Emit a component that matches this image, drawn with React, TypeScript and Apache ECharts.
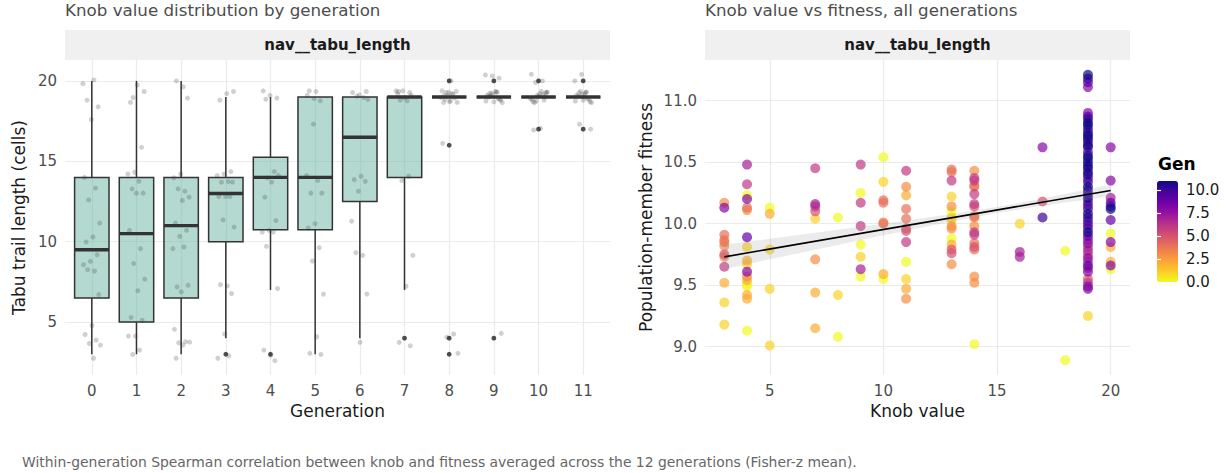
import React, { useEffect, useRef } from 'react';
import * as echarts from 'echarts';

// ---------- Left panel: knob value by generation ----------
const generations = [0, 1, 2, 3, 4, 5, 6, 7, 8, 9, 10, 11];
const whiskerLow = [3, 3, 3, 4, 7, 3, 4, 7, 19, 19, 19, 19];
const quart1 = [6.5, 5, 6.5, 10, 10.75, 10.75, 12.5, 14, 19, 19, 19, 19];
const medians = [9.5, 10.5, 11, 13, 14, 14, 16.5, 19, 19, 19, 19, 19];
const quart3 = [14, 14, 14, 14, 15.25, 19, 19, 19, 19, 19, 19, 19];
const whiskerHigh = [20, 20, 20, 19, 19, 19, 19, 19, 19, 19, 19, 19];
const outliers = [[], [], [], [3], [3], [], [], [4], [20, 16, 4, 3], [20, 4], [20, 17], [20, 17]];

const jitterValues = [
  [19.83, 20.06, 18.8, 18.39, 17.6, 14.0, 13.33, 12.6, 11.16, 10.29, 9.98, 9.19, 8.78, 8.57, 8.18, 8.26, 6.71, 4.79, 4.23, 3.88, 3.67, 3.57, 2.75],
  [18.97, 19.34, 19.75, 18.66, 15.87, 14.32, 14.21, 13.76, 13.29, 13.02, 13.02, 10.7, 9.57, 8.64, 7.67, 6.95, 5.29, 5.12, 4.13, 4.13, 3.26, 2.99],
  [19.63, 20.0, 18.93, 14.21, 13.97, 13.14, 13.29, 12.77, 12.56, 11.16, 10.7, 10.33, 9.57, 9.67, 7.19, 7.29, 6.88, 4.55, 3.78, 3.71, 3.75, 3.57, 2.75],
  [19.34, 19.21, 18.8, 14.36, 14.21, 14.11, 13.74, 13.7, 13.7, 12.81, 12.81, 12.81, 11.36, 10.91, 7.25, 7.33, 6.78, 4.26, 2.75, 2.9],
  [18.86, 18.93, 19.1, 19.38, 14.36, 13.97, 14.11, 13.7, 12.77, 11.32, 10.7, 10.6, 10.6, 9.71, 7.09, 2.93, 3.26, 2.6],
  [19.34, 19.38, 18.76, 17.31, 14.11, 13.8, 13.02, 13.02, 11.12, 10.85, 9.63, 8.8, 6.74, 4.09, 3.06, 2.99, 18.9, 19.1],
  [19.34, 19.13, 19.28, 18.97, 19.05, 18.85, 14.07, 13.86, 13.76, 13.14, 11.28, 9.15, 9.32, 6.74, 3.74],
  [19.34, 19.28, 19.38, 19.38, 18.76, 18.8, 19.1, 18.95, 19.2, 14.07, 13.8, 9.15, 7.23, 3.74, 3.53],
  [19.28, 19.38, 19.17, 19.28, 18.66, 18.76, 18.66, 18.93, 19.07, 18.97, 19.2, 18.85, 19.35, 18.7, 16.12, 4.26, 4.05, 3.06, 20.0, 19.1],
  [20.17, 20.31, 20.37, 19.3, 19.2, 18.8, 18.7, 19.1, 18.9, 19.25, 18.65, 19.35, 19.0, 18.85, 19.15, 18.75, 19.3, 19.05, 4.3],
  [20.41, 20.0, 19.9, 19.3, 19.2, 18.7, 18.8, 19.1, 18.9, 19.35, 18.65, 19.25, 19.05, 18.85, 19.15, 18.75, 19.3, 17.05, 16.95, 19.0],
  [20.41, 20.0, 19.3, 19.25, 18.7, 18.8, 19.1, 18.9, 19.35, 18.65, 19.2, 19.05, 18.85, 19.15, 18.75, 19.3, 17.31, 17.0, 19.0],
];
const leftYTicks = [5, 10, 15, 20];

// ---------- Right panel: knob vs fitness ----------
const knobValues = [3, 4, 5, 7, 8, 9, 10, 11, 13, 14, 16, 17, 18, 19, 20];
// each entry: [fitness, generation]
const fitnessByKnob = [
  [[10.17, 3], [10.13, 8], [9.91, 4], [9.87, 3], [9.85, 4], [9.82, 3], [9.75, 5], [9.73, 3], [9.65, 6], [9.52, 2], [9.36, 1], [9.18, 1]],
  [[10.48, 7], [10.32, 6], [10.23, 0], [10.2, 8], [10.13, 4], [10.11, 3], [9.89, 9], [9.81, 1], [9.7, 2], [9.67, 1], [9.61, 8], [9.57, 3], [9.54, 2], [9.51, 0], [9.49, 0], [9.42, 2], [9.39, 2], [9.13, 0]],
  [[10.13, 0], [10.08, 2], [9.79, 1], [9.47, 1], [9.01, 1]],
  [[10.45, 6], [10.16, 7], [10.14, 6], [10.1, 5], [10.04, 1], [9.71, 3], [9.44, 2], [9.15, 2]],
  [[10.05, 0], [9.42, 1], [9.08, 0]],
  [[10.48, 6], [10.25, 0], [10.17, 6], [9.98, 6], [9.83, 0], [9.73, 1], [9.63, 7], [9.57, 0]],
  [[10.54, 0], [10.34, 1], [10.19, 4], [10.17, 4], [10.0, 4], [10.01, 3], [9.59, 2], [9.55, 0]],
  [[10.43, 6], [10.3, 3], [10.23, 2], [10.12, 4], [10.04, 4], [9.96, 5], [9.94, 5], [9.85, 6], [9.69, 0], [9.55, 1], [9.47, 2], [9.39, 3]],
  [[10.44, 4], [10.42, 4], [10.35, 6], [10.22, 1], [10.14, 3], [10.1, 0], [10.05, 1], [10.03, 1], [9.98, 3], [9.96, 3], [9.88, 0], [9.83, 2], [9.79, 5], [9.76, 5], [9.67, 3]],
  [[10.43, 3], [10.37, 6], [10.35, 6], [10.31, 3], [10.3, 4], [10.24, 6], [10.16, 6], [10.14, 5], [10.06, 4], [10.05, 3], [9.98, 3], [9.93, 6], [9.91, 6], [9.84, 4], [9.81, 5], [9.79, 4], [9.57, 3], [9.52, 3], [9.02, 0]],
  [[10.0, 1], [9.77, 7], [9.73, 7]],
  [[10.62, 8], [10.18, 5], [10.05, 10]],
  [[9.78, 0], [8.89, 0]],
  [[11.21, 11], [11.18, 10], [11.15, 9], [11.11, 8], [10.9, 8], [10.87, 9], [10.85, 10], [10.82, 11], [10.8, 11], [10.77, 10], [10.74, 9], [10.72, 11], [10.7, 10], [10.68, 10], [10.66, 5], [10.64, 11], [10.62, 10], [10.58, 9], [10.55, 11], [10.53, 10], [10.5, 11], [10.47, 11], [10.45, 10], [10.42, 9], [10.4, 11], [10.37, 8], [10.34, 10], [10.3, 11], [10.27, 10], [10.24, 9], [10.21, 11], [10.18, 8], [10.15, 10], [10.12, 9], [10.08, 11], [10.05, 10], [10.02, 9], [9.99, 10], [9.96, 8], [9.93, 11], [9.9, 9], [9.87, 7], [9.84, 8], [9.81, 6], [9.78, 7], [9.75, 5], [9.72, 8], [9.69, 6], [9.66, 9], [9.64, 7], [9.61, 8], [9.55, 5], [9.52, 6], [9.49, 8], [9.47, 8], [9.25, 1]],
  [[10.62, 8], [10.35, 8], [10.21, 7], [10.17, 9], [10.14, 10], [10.12, 11], [10.03, 9], [9.92, 0], [9.85, 8], [9.81, 2], [9.69, 2], [9.66, 8], [9.63, 0]],
];
const fitX = [3, 20];
const fitY = [9.73, 10.27];
const bandX = [3, 5, 7, 9, 11, 13, 15, 17, 20];
const bandLow = [9.63, 9.71, 9.788, 9.867, 9.943, 10.018, 10.086, 10.145, 10.223];
const bandHigh = [9.83, 9.878, 9.926, 9.975, 10.025, 10.078, 10.136, 10.205, 10.317];
const rightXTicks = [5, 10, 15, 20];
const rightYTicks = [9.0, 9.5, 10.0, 10.5, 11.0];
const genLegendTicks = [0, 2.5, 5, 7.5, 10];

const plasmaLowToHigh = ['#F0F921', '#FCCE25', '#FCA636', '#F2844B', '#E16462', '#CC4778', '#B12A90', '#8F0DA4', '#6A00A8', '#41049D', '#0D0887'];

const FONT = 'DejaVu Sans';
const GRID_COLOR = '#ebebeb';
const AXIS_TEXT = '#4d4d4d';

function buildOption() {
  const boxData = generations.map((g, i) => [g, whiskerLow[i], quart1[i], medians[i], quart3[i], whiskerHigh[i]]);
  const outlierData: number[][] = [];
  outliers.forEach((vals, g) => vals.forEach((v) => outlierData.push([g, v])));
  const jitterData: number[][] = [];
  jitterValues.forEach((vals, g) => {
    vals.forEach((v, i) => {
      const frac = (i * 0.6180339 + g * 0.31) % 1;
      jitterData.push([g + (frac - 0.5) * 0.4, v]);
    });
  });

  const scatterData: number[][] = [];
  knobValues.forEach((k, i) => fitnessByKnob[i].forEach(([f, gen]) => scatterData.push([k, f, gen])));
  scatterData.sort((a, b) => a[2] - b[2]);

  const bandData = bandX.map((x, i) => [x, bandLow[i], bandHigh[i]]);

  const halfBox = 0.385;

  const axisLabelStyle = { color: AXIS_TEXT, fontSize: 15, fontFamily: FONT };
  const nameStyle = { color: '#1a1a1a', fontSize: 17, fontFamily: FONT };

  return {
    animation: false,
    backgroundColor: '#ffffff',
    textStyle: { fontFamily: FONT },
    grid: [
      { left: 65, top: 60, width: 545, height: 315, containLabel: false },
      { left: 705, top: 60, width: 425, height: 315, containLabel: false },
      { left: 1157, top: 181, width: 21, height: 101, containLabel: false },
    ],
    xAxis: [
      {
        gridIndex: 0, type: 'value', min: -0.6, max: 11.6,
        name: 'Generation', nameLocation: 'middle', nameGap: 27, nameTextStyle: nameStyle,
        axisLine: { show: false },
        axisTick: { show: false, customValues: generations },
        axisLabel: { ...axisLabelStyle, margin: 8, customValues: generations },
        splitLine: { show: true, lineStyle: { color: GRID_COLOR, width: 1.2 } },
      },
      {
        gridIndex: 1, type: 'value', min: 2.15, max: 20.85,
        name: 'Knob value', nameLocation: 'middle', nameGap: 27, nameTextStyle: nameStyle,
        axisLine: { show: false },
        axisTick: { show: false, customValues: rightXTicks },
        axisLabel: { ...axisLabelStyle, margin: 8, customValues: rightXTicks },
        splitLine: { show: true, lineStyle: { color: GRID_COLOR, width: 1.2 } },
      },
      { gridIndex: 2, type: 'value', min: 0, max: 1, show: false },
    ],
    yAxis: [
      {
        gridIndex: 0, type: 'value', min: 1.71, max: 21.3,
        name: 'Tabu trail length (cells)', nameLocation: 'middle', nameGap: 38, nameTextStyle: nameStyle,
        axisLine: { show: false },
        axisTick: { show: false, customValues: leftYTicks },
        axisLabel: { ...axisLabelStyle, margin: 8, customValues: leftYTicks },
        splitLine: { show: true, lineStyle: { color: GRID_COLOR, width: 1.2 } },
      },
      {
        gridIndex: 1, type: 'value', min: 8.77, max: 11.33,
        name: 'Population-member fitness', nameLocation: 'middle', nameGap: 51, nameTextStyle: nameStyle,
        axisLine: { show: false },
        axisTick: { show: false, customValues: rightYTicks },
        axisLabel: { ...axisLabelStyle, margin: 8, customValues: rightYTicks, formatter: (v: number) => v.toFixed(1) },
        splitLine: { show: true, lineStyle: { color: GRID_COLOR, width: 1.2 } },
      },
      {
        gridIndex: 2, type: 'value', min: 0, max: 11, position: 'right', z: 10,
        axisLine: { show: false },
        axisTick: { show: true, inside: true, length: 4, customValues: genLegendTicks, lineStyle: { color: '#ffffff', width: 1.2 } },
        axisLabel: { color: '#1a1a1a', fontSize: 15, fontFamily: FONT, margin: 8, customValues: genLegendTicks, formatter: (v: number) => v.toFixed(1) },
        splitLine: { show: false },
      },
      {
        gridIndex: 2, type: 'value', min: 0, max: 11, position: 'left', z: 10,
        axisLine: { show: false },
        axisTick: { show: true, inside: true, length: 4, customValues: genLegendTicks, lineStyle: { color: '#ffffff', width: 1.2 } },
        axisLabel: { show: false },
        splitLine: { show: false },
      },
    ],
    visualMap: {
      type: 'continuous', min: 0, max: 11, dimension: 2, seriesIndex: 3,
      inRange: { color: plasmaLowToHigh },
      left: 1157, top: 181, itemWidth: 21, itemHeight: 101, padding: 0,
      calculable: false, hoverLink: false, orient: 'vertical',
    },
    graphic: [
      { type: 'text', x: 65, y: 10, style: { text: 'Knob value distribution by generation', fill: '#4d4d4d', font: `16.7px "${FONT}"`, textVerticalAlign: 'middle', verticalAlign: 'middle' } },
      { type: 'text', x: 705, y: 10, style: { text: 'Knob value vs fitness, all generations', fill: '#4d4d4d', font: `16.7px "${FONT}"`, textVerticalAlign: 'middle', verticalAlign: 'middle' } },
      { type: 'rect', shape: { x: 65, y: 30, width: 545, height: 30 }, style: { fill: '#f0f0f0' } },
      { type: 'rect', shape: { x: 705, y: 30, width: 425, height: 30 }, style: { fill: '#f0f0f0' } },
      { type: 'text', x: 337.5, y: 45, style: { text: 'nav__tabu_length', fill: '#1a1a1a', font: `bold 15px "${FONT}"`, textAlign: 'center', align: 'center', textVerticalAlign: 'middle', verticalAlign: 'middle' } },
      { type: 'text', x: 917.5, y: 45, style: { text: 'nav__tabu_length', fill: '#1a1a1a', font: `bold 15px "${FONT}"`, textAlign: 'center', align: 'center', textVerticalAlign: 'middle', verticalAlign: 'middle' } },
      { type: 'text', x: 1158, y: 164, style: { text: 'Gen', fill: '#000000', font: `bold 17px "${FONT}"`, textVerticalAlign: 'middle', verticalAlign: 'middle' } },
      { type: 'text', x: 22, y: 462, style: { text: 'Within-generation Spearman correlation between knob and fitness averaged across the 12 generations (Fisher-z mean).', fill: '#666666', font: `13.9px "${FONT}"`, textVerticalAlign: 'middle', verticalAlign: 'middle' } },
    ],
    series: [
      {
        type: 'custom', xAxisIndex: 0, yAxisIndex: 0, data: boxData, encode: { x: 0, y: [1, 2, 3, 4, 5] }, z: 2,
        renderItem: (params: any, api: any) => {
          const g = api.value(0);
          const lo = api.value(1), b1 = api.value(2), md = api.value(3), b3 = api.value(4), hi = api.value(5);
          const pLo = api.coord([g, lo]);
          const pHi = api.coord([g, hi]);
          const pQ1 = api.coord([g, b1]);
          const pQ3 = api.coord([g, b3]);
          const tl = api.coord([g - halfBox, b3]);
          const br = api.coord([g + halfBox, b1]);
          const mL = api.coord([g - halfBox, md]);
          const mR = api.coord([g + halfBox, md]);
          const stroke = '#333333';
          return {
            type: 'group',
            children: [
              { type: 'line', shape: { x1: pHi[0], y1: pHi[1], x2: pQ3[0], y2: pQ3[1] }, style: { stroke, lineWidth: 1.5 } },
              { type: 'line', shape: { x1: pLo[0], y1: pLo[1], x2: pQ1[0], y2: pQ1[1] }, style: { stroke, lineWidth: 1.5 } },
              { type: 'rect', shape: { x: tl[0], y: tl[1], width: br[0] - tl[0], height: br[1] - tl[1] }, style: { fill: 'rgba(105,179,162,0.5)', stroke, lineWidth: 1.5 } },
              { type: 'line', shape: { x1: mL[0], y1: mL[1], x2: mR[0], y2: mR[1] }, style: { stroke, lineWidth: 3.4 } },
            ],
          };
        },
      },
      {
        type: 'scatter', xAxisIndex: 0, yAxisIndex: 0, data: outlierData, symbolSize: 4.8, z: 3,
        itemStyle: { color: '#222222' }, silent: true,
      },
      {
        type: 'scatter', xAxisIndex: 0, yAxisIndex: 0, data: jitterData, symbolSize: 5, z: 4,
        itemStyle: { color: 'rgba(60,60,60,0.3)' }, silent: true,
      },
      {
        type: 'scatter', xAxisIndex: 1, yAxisIndex: 1, data: scatterData, symbolSize: 10, z: 2,
        itemStyle: { opacity: 0.7 }, silent: true,
      },
      {
        type: 'custom', xAxisIndex: 1, yAxisIndex: 1, data: bandData, encode: { x: 0, y: [1, 2] }, z: 3, silent: true,
        renderItem: (params: any, api: any) => {
          if (params.dataIndex !== 0) return { type: 'group', children: [] };
          const upper = bandX.map((x, i) => api.coord([x, bandHigh[i]]));
          const lower = bandX.map((x, i) => api.coord([x, bandLow[i]])).reverse();
          return { type: 'polygon', shape: { points: upper.concat(lower) }, style: { fill: 'rgba(153,153,153,0.2)' } };
        },
      },
      {
        type: 'line', xAxisIndex: 1, yAxisIndex: 1, data: fitX.map((x, i) => [x, fitY[i]]), z: 4,
        showSymbol: false, symbol: 'none', lineStyle: { color: '#000000', width: 1.6 }, silent: true,
      },
    ],
  };
}

export default function App() {
  const ref = useRef<HTMLDivElement>(null);
  useEffect(() => {
    if (!ref.current) return;
    const chart = echarts.init(ref.current, null, { renderer: 'svg' });
    chart.setOption(buildOption() as any);
    return () => chart.dispose();
  }, []);
  return <div ref={ref} style={{ position: 'absolute', left: 0, top: 0, width: 1225, height: 473, background: '#fff' }} />;
}
